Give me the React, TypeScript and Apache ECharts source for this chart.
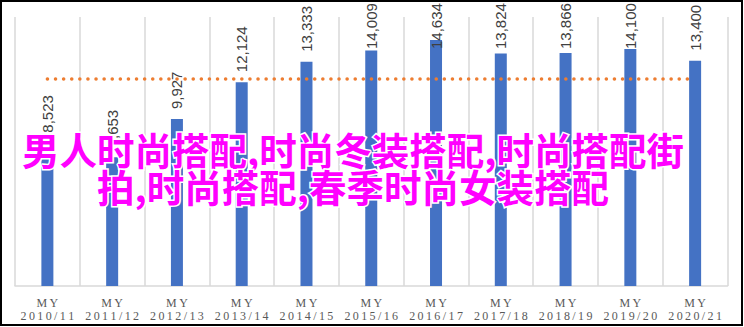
import React, { useEffect, useRef } from 'react';
import * as echarts from 'echarts';

// Marketing years shown on the category axis
const categories = ['2010/11', '2011/12', '2012/13', '2013/14', '2014/15', '2015/16', '2016/17', '2017/18', '2018/19', '2019/20', '2020/21'];
// Yearly totals
const values = [8523, 7653, 9927, 12124, 13333, 14009, 14634, 13824, 13866, 14100, 13400];
// Overlay headline, one entry per line
const titleLines = ['男人时尚搭配,时尚冬装搭配,时尚搭配街', '拍,时尚搭配,春季时尚女装搭配'];

const THIN = '\u2009';
const spaced = (s: string) => s.split('').join(THIN);

export default function App() {
  const ref = useRef<HTMLDivElement>(null);

  useEffect(() => {
    const chart = echarts.init(ref.current!, null, { renderer: 'svg' });
    const average = values.reduce((a, b) => a + b, 0) / values.length;

    chart.setOption({
      animation: false,
      backgroundColor: '#ffffff',
      grid: { left: 15, right: 16.5, top: 17, bottom: 41, containLabel: false },
      xAxis: {
        type: 'category',
        data: categories,
        axisLine: { lineStyle: { color: '#d9d9d9', width: 1.5 } },
        axisTick: { show: false },
        splitLine: { show: true, lineStyle: { color: '#d9d9d9', width: 1.5 } },
        axisLabel: {
          interval: 0,
          margin: 10,
          color: '#595959',
          fontFamily: '"Liberation Serif", "Times New Roman", serif',
          fontSize: 12,
          lineHeight: 13,
          formatter: (v: string) => spaced('MY') + '\n' + spaced(v),
        },
      },
      yAxis: { type: 'value', min: 0, max: 16000, show: false },
      series: [
        {
          type: 'bar',
          data: values,
          barWidth: 12,
          itemStyle: { color: '#4472C4' },
          z: 2,
        },
        {
          type: 'line',
          data: values.map(() => average),
          symbol: 'none',
          lineStyle: { color: '#ED7D31', width: 3.5, type: [0.1, 8], cap: 'round' },
          z: 3,
        },
        {
          type: 'custom',
          data: values.map((v, i) => [i, v]),
          z: 4,
          renderItem: (_params: any, api: any) => {
            const i = api.value(0);
            const v = api.value(1);
            const p = api.coord([i, v]);
            const y = Math.max(p[1] - 10, 49);
            return {
              type: 'text',
              x: p[0],
              y,
              rotation: Math.PI / 2,
              style: {
                text: Number(v).toLocaleString('en-US'),
                fill: '#404040',
                font: '15px "Liberation Sans", Arial, sans-serif',
                align: 'left',
                verticalAlign: 'middle',
              },
            };
          },
        },
      ],
      graphic: [
        ...titleLines.map((t, k) => ({
          type: 'text',
          x: 353,
          y: 148 + k * 37,
          z: 100,
          style: {
            text: t,
            fill: '#FF00FF',
            stroke: '#ffffff',
            lineWidth: 3,
            font: 'bold 37.5px "Noto Sans CJK SC", sans-serif',
            align: 'center',
            verticalAlign: 'middle',
          },
        })),
        {
          type: 'rect',
          z: 101,
          shape: { x: 1, y: 1, width: 741, height: 324 },
          style: { fill: 'none', stroke: '#000000', lineWidth: 2 },
        },
      ],
    });

    return () => chart.dispose();
  }, []);

  return (
    <div
      ref={ref}
      style={{ position: 'absolute', left: 0, top: 0, width: 744, height: 327 }}
    />
  );
}
